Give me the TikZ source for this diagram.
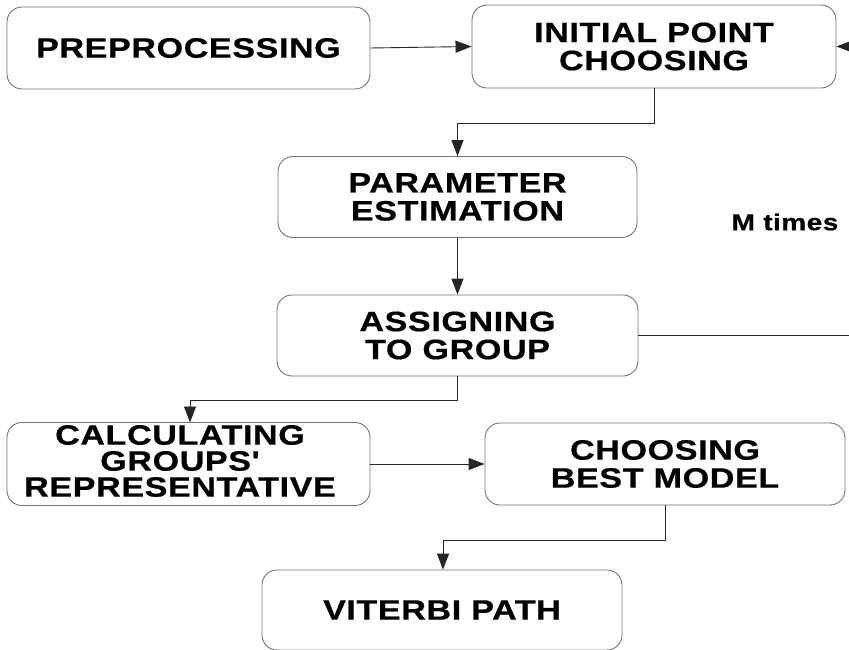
\documentclass[tikz,border=0pt]{standalone}
\usepackage{fontspec}
\setmainfont{Liberation Sans}
\newfontfamily\boxfont[FakeStretch=1.22, LetterSpace=2, FakeBold=0.6]{Liberation Sans}
\usetikzlibrary{arrows.meta}
\begin{document}
\begin{tikzpicture}[x=1pt,y=-1pt,
  box/.style={draw=black!55, line width=0.9pt, rounded corners=15pt, fill=white,
    align=center, font=\boxfont\fontsize{28}{28}\selectfont\bfseries, inner sep=0pt},
  conn/.style={draw=black!85, line width=0.9pt},
  arr/.style={conn, -{Triangle[length=16pt,width=12pt]}}]
\useasboundingbox (0,0) rectangle (849,650);
\clip (0,0) rectangle (849,650);
\node[box, minimum width=363pt, minimum height=82pt] (pre) at (188.5,48) {PREPROCESSING};
\node[box, minimum width=364pt, minimum height=83pt] (ini) at (654,46.5) {INITIAL POINT\\CHOOSING};
\node[box, minimum width=359pt, minimum height=81pt] (par) at (457.5,197) {PARAMETER\\ESTIMATION};
\node[box, minimum width=361pt, minimum height=81pt] (asg) at (457.5,335.5) {ASSIGNING\\TO GROUP};
\node[box, minimum width=363pt, minimum height=83pt] (cal) at (188.5,464) {};
\node[font=\boxfont\fontsize{28}{26}\selectfont\bfseries, align=center, inner sep=0pt] (calt) at (180,461) {CALCULATING\\GROUPS'\\REPRESENTATIVE};
\node[box, minimum width=360pt, minimum height=82pt] (cho) at (665,464) {CHOOSING\\BEST MODEL};
\node[box, minimum width=360pt, minimum height=80pt] (vit) at (442,610) {VITERBI PATH};
\node[font=\boxfont\fontsize{23}{24}\selectfont\bfseries] (m) at (785,222) {M times};
\coordinate (r1) at (852,335.5);
\coordinate (r2) at (852,46.5);
\draw[arr] (pre.east) -- (ini.west);
\draw[arr] (ini.south -| 654,0) -- (654,123) -- (457.5,123) -- (par.north);
\draw[arr] (par.south) -- (asg.north);
\draw[conn] (asg.east) -- (r1) -- (r2);
\draw[arr] (r2) -- (ini.east);
\draw[arr] (asg.south) -- (457.5,400) -- (190,400) -- (190,422.5);
\draw[arr] (cal.east) -- (cho.west);
\draw[arr] (cho.south) -- (665,540) -- (443,540) -- (vit.north -| 443,0);
\end{tikzpicture}
\end{document}
